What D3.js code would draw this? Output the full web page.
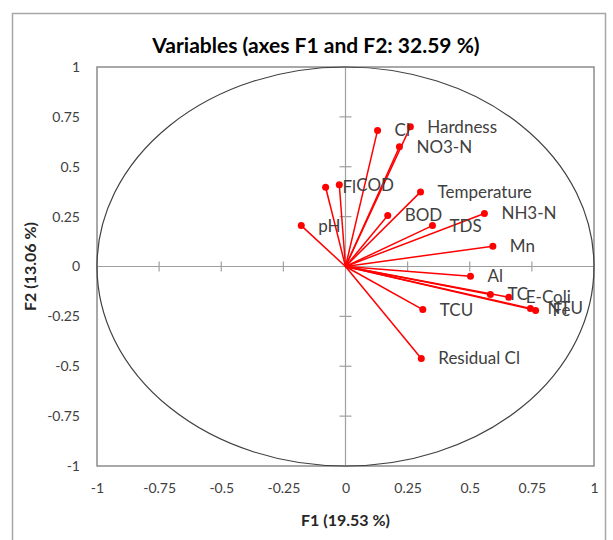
<!DOCTYPE html>
<html><head><meta charset="utf-8">
<script src="https://cdn.jsdelivr.net/npm/d3@7"></script>
<style>body{margin:0;background:#fff;} svg{display:block;font-family:Lato, "Open Sans", sans-serif;}</style>
</head><body>
<svg id="c" width="613" height="540"></svg>
<script>
const variables = ["Cl","Hardness","NO3-N","Fl","COD","Temperature","BOD","TDS","pH","NH3-N","Mn","Al","TC","E-Coli","NTU","Fe","TCU","Residual Cl"];
const f1 = [0.129,0.261,0.217,-0.080,-0.025,0.302,0.170,0.350,-0.178,0.559,0.593,0.503,0.583,0.657,0.744,0.765,0.311,0.305];
const f2 = [0.682,0.700,0.600,0.397,0.410,0.374,0.256,0.205,0.205,0.266,0.102,-0.049,-0.140,-0.154,-0.210,-0.220,-0.216,-0.461];
const tickValues = [-1,-0.75,-0.5,-0.25,0,0.25,0.5,0.75,1];
const tickLabels = ["-1","-0.75","-0.5","-0.25","0","0.25","0.5","0.75","1"];

const svg = d3.select("#c");
const L=97,R=594,T=67,B=466;
const x = d3.scaleLinear().domain([-1,1]).range([L,R]);
const y = d3.scaleLinear().domain([-1,1]).range([B,T]);

// outer chart frame
svg.append("rect").attr("x",12.5).attr("y",13.5).attr("width",593).attr("height",540)
  .attr("fill","none").attr("stroke","#a6a6a6").attr("stroke-width",1.5);

// plot frame
svg.append("rect").attr("x",L).attr("y",T).attr("width",R-L).attr("height",B-T)
  .attr("fill","none").attr("stroke","#8c8c8c").attr("stroke-width",1.5);

// zero axes
svg.append("line").attr("x1",L).attr("x2",R).attr("y1",y(0)).attr("y2",y(0)).attr("stroke","#a0a0a0").attr("stroke-width",1.2);
svg.append("line").attr("x1",x(0)).attr("x2",x(0)).attr("y1",T).attr("y2",B).attr("stroke","#a0a0a0").attr("stroke-width",1.2);

// ticks on zero axes
svg.selectAll(".xt").data(tickValues.filter(v=>v!==0 && Math.abs(v)!==1)).join("line")
  .attr("x1",d=>x(d)).attr("x2",d=>x(d)).attr("y1",y(0)-5).attr("y2",y(0)+5).attr("stroke","#a0a0a0").attr("stroke-width",1.2);
svg.selectAll(".yt").data(tickValues.filter(v=>v!==0 && Math.abs(v)!==1)).join("line")
  .attr("y1",d=>y(d)).attr("y2",d=>y(d)).attr("x1",x(0)-6).attr("x2",x(0)+6).attr("stroke","#a0a0a0").attr("stroke-width",1.2);

// tick labels via axes
const gx = svg.append("g").attr("transform",`translate(0,${B})`)
  .call(d3.axisBottom(x).tickValues(tickValues).tickFormat((d,i)=>tickLabels[i]).tickSize(0).tickPadding(17));
gx.select(".domain").remove();
gx.selectAll("text").attr("font-size",14).attr("fill","#404040").attr("font-family","Lato, sans-serif");
const gy = svg.append("g").attr("transform",`translate(${L},0)`)
  .call(d3.axisLeft(y).tickValues(tickValues).tickFormat((d,i)=>tickLabels[i]).tickSize(0).tickPadding(17));
gy.select(".domain").remove();
gy.selectAll("text").attr("font-size",14).attr("fill","#404040").attr("font-family","Lato, sans-serif");

// correlation circle
svg.append("ellipse").attr("cx",x(0)).attr("cy",y(0)).attr("rx",x(1)-x(0)).attr("ry",y(0)-y(1))
  .attr("fill","none").attr("stroke","#404040").attr("stroke-width",1.2);

const data = variables.map((v,i)=>({name:v,f1:f1[i],f2:f2[i]}));

// vectors
svg.selectAll(".vec").data(data).join("line")
  .attr("x1",x(0)).attr("y1",y(0)).attr("x2",d=>x(d.f1)).attr("y2",d=>y(d.f2))
  .attr("stroke","#ff0000").attr("stroke-width",1.5);
svg.selectAll(".pt").data(data).join("circle")
  .attr("cx",d=>x(d.f1)).attr("cy",d=>y(d.f2)).attr("r",3.5).attr("fill","#ff0000");
svg.selectAll(".lab").data(data).join("text")
  .attr("x",d=>x(d.f1)+17).attr("y",d=>y(d.f2)+6)
  .attr("font-size",17).attr("fill","#404040").text(d=>d.name);

// titles
svg.append("text").attr("x",316).attr("y",53).attr("text-anchor","middle")
  .attr("font-size",21).attr("font-weight","bold").attr("fill","#000").text("Variables (axes F1 and F2: 32.59 %)");
svg.append("text").attr("x",x(0)).attr("y",526).attr("text-anchor","middle")
  .attr("font-size",16).attr("font-weight","bold").attr("fill","#262626").text("F1 (19.53 %)");
svg.append("text").attr("transform",`translate(36,${y(0)}) rotate(-90)`).attr("text-anchor","middle")
  .attr("font-size",16).attr("font-weight","bold").attr("fill","#262626").text("F2 (13.06 %)");
</script>
</body></html>
